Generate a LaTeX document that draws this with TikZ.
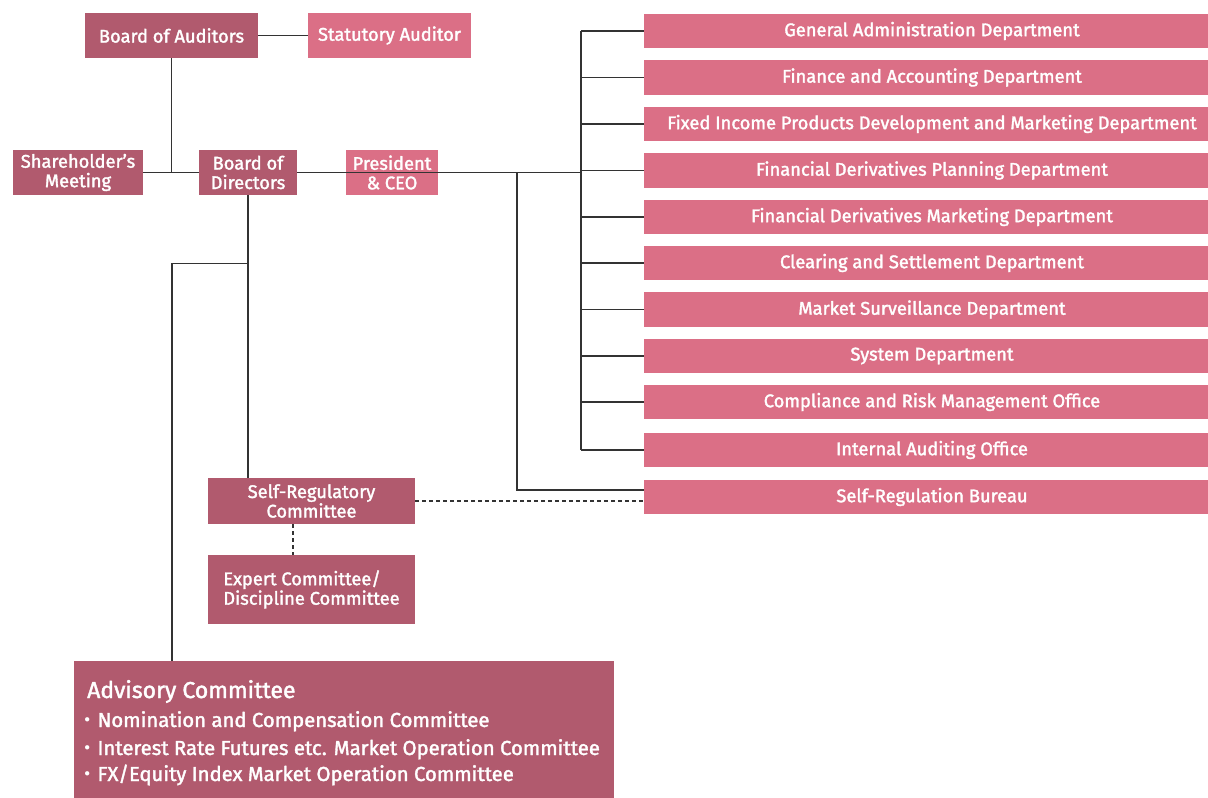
\documentclass[tikz,border=0pt]{standalone}
\usepackage{fontspec}
\setmainfont{Fira Sans}[FakeBold=1.8]
\newfontfamily\cjk{Noto Sans CJK JP}
\usetikzlibrary{calc}
\definecolor{dk}{RGB}{177,90,110}
\definecolor{lt}{RGB}{219,111,134}
\definecolor{ln}{RGB}{51,51,51}
\newcommand{\bul}{{\cjk ・}}
\begin{document}
\begin{tikzpicture}[x=1pt,y=-1pt,
  box/.style={inner sep=0pt, text=white, font=\fontsize{18.3}{19.5}\selectfont, align=center},
  dkbox/.style={box, fill=dk},
  ltbox/.style={box, fill=lt},
  dept/.style={ltbox, minimum width=576, minimum height=34.5},
  conn/.style={draw=ln, line width=1.4pt},
  dsh/.style={draw=ln, line width=1.3pt, dash pattern=on 4pt off 3pt},
  advtxt/.style={inner sep=0pt, anchor=base west, text=white, font=\fontsize{20.3}{22}\selectfont}]
\useasboundingbox (0,0) rectangle (1208,798);

% top-left structure
\node[dkbox, minimum width=173, minimum height=45] (boa) at (171.5,35.5) {Board of Auditors};
\node[ltbox, minimum width=163, minimum height=45] (sa) at (389.5,35.5) {Statutory Auditor};
\node[dkbox, minimum width=130, minimum height=45] (sh) at (78,172.5) {Shareholder’s\\Meeting};
\node[dkbox, minimum width=98, minimum height=45] (bod) at (248,172.5) {Board of\\Directors};
\node[ltbox, minimum width=92, minimum height=45] (pres) at (392,172.5) {President\\\& CEO};

% departments
\node[dept] (d1) at (932,31) {General Administration Department};
\node[dept] (d2) at (932,77.5) {Finance and Accounting Department};
\node[dept] (d3) at (932,124) {Fixed Income Products Development and Marketing Department};
\node[dept] (d4) at (932,170.5) {Financial Derivatives Planning Department};
\node[dept] (d5) at (932,217) {Financial Derivatives Marketing Department};
\node[dept] (d6) at (932,263) {Clearing and Settlement Department};
\node[dept] (d7) at (932,309.5) {Market Surveillance Department};
\node[dept] (d8) at (932,356) {System Department};
\node[dept] (d9) at (932,402) {Compliance and Risk Management Office};
\node[dept] (d10) at (932,450) {Internal Auditing Office};
\node[dept] (srb) at (932,497) {Self-Regulation Bureau};

% committees
\node[dkbox, minimum width=207, minimum height=46] (src) at (311.5,501) {Self-Regulatory\\Committee};
\node[dkbox, minimum width=207, minimum height=69, align=left] (exp) at (311.5,589.5) {Expert Committee/\\Discipline Committee};
\node[fill=dk, inner sep=0pt, minimum width=540, minimum height=137, anchor=north west] (adv) at (74,661) {};
\node[advtxt, font=\fontsize{23}{26}\selectfont] (advt) at (87,698) {Advisory Committee};
\node[advtxt] (adv1) at (77,727) {\bul Nomination and Compensation Committee};
\node[advtxt] (adv2) at (77,755) {\bul Interest Rate Futures etc. Market Operation Committee};
\node[advtxt] (adv3) at (77,781) {\bul FX/Equity Index Market Operation Committee};

% coordinates for buses
\coordinate (bus) at (581,0);
\coordinate (trunk) at (517,0);
\coordinate (advx) at (172,0);

% connectors
\draw[conn] (boa.east) -- (sa.west);
\draw[conn] (sh.east) -- (bod.west);
\draw[conn] (boa.south) -- (boa.south |- sh.east);
\draw[conn] (bod.east) -- (pres.east);
\draw[conn] (pres.east) -- (pres.east -| bus);
\draw[conn] (d1.west -| bus) -- (d10.west -| bus);
\foreach \d in {d1,d2,d3,d4,d5,d6,d7,d8,d9,d10}
  \draw[conn] (\d.west -| bus) -- (\d.west);
\draw[conn] (pres.east -| trunk) |- ($(srb.west)+(0,-7)$);
\draw[conn] (bod.south) -- (src.north -| bod.south);
\draw[conn] ($(bod.south)+(0,68)$) -| (adv.north -| advx);
\draw[dsh] (src.east) -- (src.east -| srb.west);
\draw[dsh] ($(src.south)+(-18.5,0)$) -- ($(exp.north)+(-18.5,0)$);
\end{tikzpicture}
\end{document}
